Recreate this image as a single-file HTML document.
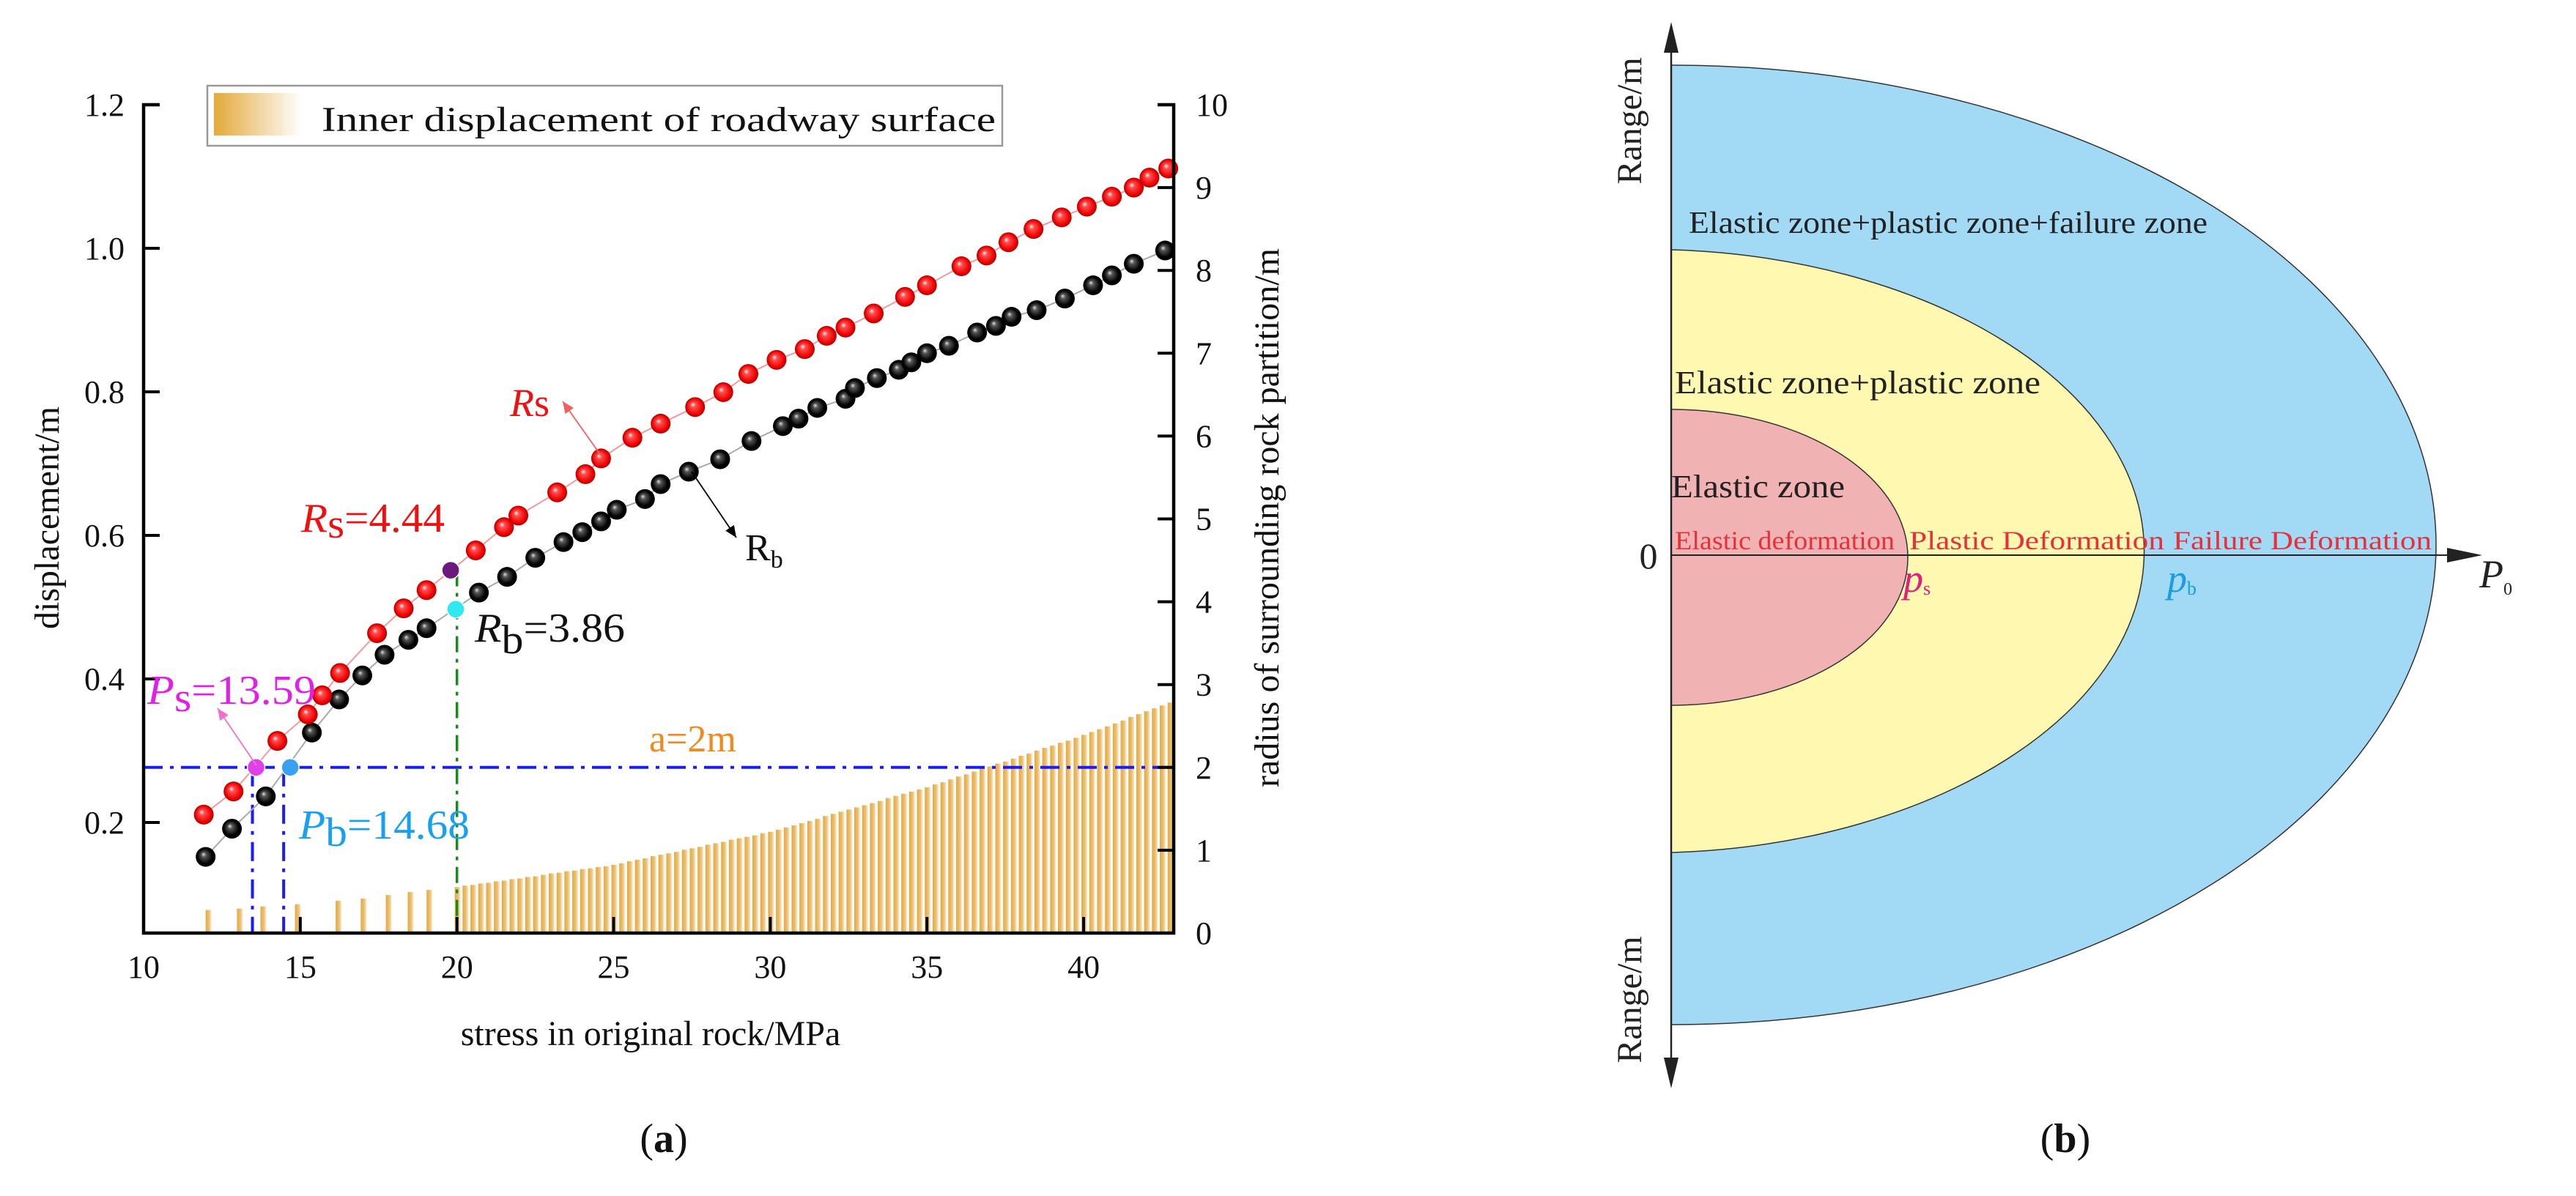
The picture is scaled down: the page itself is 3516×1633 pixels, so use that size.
<!DOCTYPE html>
<html><head><meta charset="utf-8">
<style>
html,body{margin:0;padding:0;background:#fff;}
svg{display:block;font-family:"Liberation Serif",serif;}
</style></head>
<body>
<svg id="fig" width="3516" height="1633" viewBox="0 0 3516 1633" xmlns="http://www.w3.org/2000/svg">
<defs>
  <radialGradient id="gRed" cx="0.5" cy="0.5" r="0.5" fx="0.38" fy="0.36">
    <stop offset="0" stop-color="#ffffff"/><stop offset="0.25" stop-color="#ff5050"/><stop offset="0.8" stop-color="#ee0000"/><stop offset="1" stop-color="#b00000"/>
  </radialGradient>
  <radialGradient id="gBlack" cx="0.5" cy="0.5" r="0.5" fx="0.38" fy="0.36">
    <stop offset="0" stop-color="#e0e0e0"/><stop offset="0.25" stop-color="#555"/><stop offset="0.75" stop-color="#000"/><stop offset="1" stop-color="#000"/>
  </radialGradient>
  <linearGradient id="gBar" x1="0" x2="1" y1="0" y2="0">
    <stop offset="0" stop-color="#e4a93a"/><stop offset="0.6" stop-color="#ecc177"/><stop offset="1" stop-color="#fbeedc"/>
  </linearGradient>
  <linearGradient id="gLeg" x1="0" x2="1" y1="0" y2="0">
    <stop offset="0" stop-color="#e4a93a"/><stop offset="1" stop-color="#ffffff"/>
  </linearGradient>
</defs>
<g id="chartA"></g>
<g id="chartB">
  <path d="M2281,89 A1044,655 0 0 1 2281,1399 Z" fill="#a2d9f5" stroke="#333" stroke-width="1.5"/>
  <path d="M2281,341 A679,412 0 0 1 2281,1164 Z" fill="#fef8b0" stroke="#333" stroke-width="1.5"/>
  <path d="M2281,559 A323,202 0 0 1 2281,963 Z" fill="#f1b2b3" stroke="#333" stroke-width="1.5"/>
  <line x1="2281" y1="50" x2="2281" y2="1466" stroke="#222" stroke-width="2.5"/>
  <polygon points="2281,30 2271,72 2291,72" fill="#222"/>
  <polygon points="2281,1486 2271,1444 2291,1444" fill="#222"/>
  <line x1="2281" y1="758" x2="3350" y2="758" stroke="#222" stroke-width="2"/>
  <polygon points="3388,758 3340,748 3340,768" fill="#222"/>
  <text x="2305" y="318" font-size="42" fill="#222" textLength="708" lengthAdjust="spacingAndGlyphs">Elastic zone+plastic zone+failure zone</text>
  <text x="2286" y="537" font-size="44" fill="#222" textLength="499" lengthAdjust="spacingAndGlyphs">Elastic zone+plastic zone</text>
  <text x="2281" y="679" font-size="44" fill="#222" textLength="237" lengthAdjust="spacingAndGlyphs">Elastic zone</text>
  <text x="2286" y="750" font-size="36" fill="#e8303a" textLength="300" lengthAdjust="spacingAndGlyphs">Elastic deformation</text>
  <text x="2606" y="750" font-size="36" fill="#e8303a" textLength="348" lengthAdjust="spacingAndGlyphs">Plastic Deformation</text>
  <text x="2966" y="750" font-size="36" fill="#e8303a" textLength="353" lengthAdjust="spacingAndGlyphs">Failure Deformation</text>
  <text x="2250" y="776" font-size="50" fill="#222" text-anchor="middle">0</text>
  <text x="2598" y="808" font-size="54" font-style="italic" fill="#e0207a">p<tspan font-size="26" font-style="normal" dy="4">s</tspan></text>
  <text x="2958" y="808" font-size="54" font-style="italic" fill="#1a9ee0">p<tspan font-size="26" font-style="normal" dy="4">b</tspan></text>
  <text x="3384" y="802" font-size="54" font-style="italic" fill="#222">P<tspan font-size="24" font-style="normal" dy="10">0</tspan></text>
  <text transform="translate(2240,165) rotate(-90)" font-size="48" fill="#222" text-anchor="middle">Range/m</text>
  <text transform="translate(2240,1365) rotate(-90)" font-size="48" fill="#222" text-anchor="middle">Range/m</text>
  <text x="2819" y="1573" font-size="56" fill="#111" text-anchor="middle">(<tspan font-weight="bold">b</tspan>)</text>
</g>
</svg>
<script>
// ---- data ----
const rsStress = [11.92,12.87,14.27,15.24,15.7,16.27,17.45,18.3,19.03,20.6,21.5,21.96,23.2,24.1,24.6,25.6,26.5,27.6,28.5,29.3,30.2,31.1,31.8,32.4,33.3,34.3,35.0,36.1,36.9,37.6,38.4,39.3,40.1,40.9,41.6,42.1,42.7];
const rsRadius = [1.43,1.71,2.32,2.64,2.87,3.14,3.62,3.92,4.14,4.62,4.9,5.04,5.32,5.54,5.73,5.98,6.15,6.35,6.53,6.75,6.92,7.05,7.21,7.31,7.48,7.68,7.82,8.05,8.18,8.34,8.5,8.64,8.77,8.89,9.0,9.12,9.23];
const rbStress = [11.98,12.82,13.9,15.37,16.24,16.98,17.69,18.45,19.03,20.7,21.6,22.5,23.4,24.0,24.6,25.1,26.0,26.5,27.4,28.4,29.4,30.4,30.9,31.5,32.4,32.7,33.4,34.1,34.5,35.0,35.7,36.6,37.2,37.7,38.5,39.4,40.3,40.9,41.6,42.6];
const rbRadius = [0.92,1.26,1.65,2.42,2.82,3.11,3.36,3.54,3.68,4.11,4.3,4.53,4.72,4.84,4.97,5.11,5.24,5.42,5.57,5.72,5.94,6.12,6.21,6.34,6.45,6.58,6.7,6.8,6.89,7.0,7.09,7.25,7.33,7.44,7.52,7.66,7.82,7.94,8.08,8.24];
const barStress = [12.05,13.05,13.8,14.9,16.2,17.0,17.8,18.5,19.1,
 20,20.25,20.5,20.75,21,21.25,21.5,21.75,22,22.25,22.5,22.75,23,23.25,23.5,23.75,24,24.25,24.5,24.75,25,
 25.25,25.5,25.75,26,26.25,26.5,26.75,27,27.25,27.5,27.75,28,28.25,28.5,28.75,29,29.25,29.5,29.75,30,
 30.25,30.5,30.75,31,31.25,31.5,31.75,32,32.25,32.5,32.75,33,33.25,33.5,33.75,34,34.25,34.5,34.75,35,
 35.25,35.5,35.75,36,36.25,36.5,36.75,37,37.25,37.5,37.75,38,38.25,38.5,38.75,39,39.25,39.5,39.75,40,
 40.25,40.5,40.75,41,41.25,41.5,41.75,42,42.25,42.5,42.75];
const barDisp = [0.078,0.080,0.083,0.086,0.091,0.094,0.099,0.103,0.106,
 .110,.112,.113,.115,.116,.118,.119,.121,.122,.124,.125,.127,.129,.130,.132,.133,.135,.136,.138,.139,.141,
 .143,.146,.148,.150,.153,.155,.157,.159,.162,.164,.166,.169,.171,.173,.176,.178,.180,.182,.185,.187,
 .190,.193,.196,.199,.202,.205,.209,.212,.215,.218,.221,.224,.227,.230,.234,.237,.240,.243,.246,.249,
 .253,.256,.260,.264,.267,.271,.275,.278,.282,.285,.289,.293,.296,.300,.304,.307,.311,.314,.318,.322,
 .326,.330,.334,.338,.342,.347,.351,.355,.359,.363,.367];
const xTicks = [10,15,20,25,30,35,40];
const yLeftTicks = [0.2,0.4,0.6,0.8,1.0,1.2];
const yLeftLabels = ["0.2","0.4","0.6","0.8","1.0","1.2"];
const yRightTicks = [0,1,2,3,4,5,6,7,8,9,10];
const psPoint = [13.59, 2];
const pbPoint = [14.68, 2];
const rsKey = [19.8, 4.38];
const rbKey = [19.96, 3.91];
const aLine = 2;

// ---- scales ----
const X0=196, X1=1602, YB=1274;
const xS = s => X0 + (s-10)*42.77;
const yR = r => YB - r*113.1;
const yL = d => 143 + (1.2-d)*980;
const NS="http://www.w3.org/2000/svg";
const g = document.getElementById('chartA');
function mk(tag, attrs, parent){const e=document.createElementNS(NS,tag);for(const k in attrs)e.setAttribute(k,attrs[k]);(parent||g).appendChild(e);return e;}
function txt(str, attrs){const e=mk('text',attrs);e.textContent=str;return e;}

// bars
const gb = mk('g',{});


barStress.forEach((s,i)=>{
  const y=yL(barDisp[i]);
  const r=mk('rect',{x:xS(s)-3,y:y,width:8,height:YB-y,fill:'url(#gBar)'},gb);
  
  
});

// reference lines
let l;
l=mk('line',{x1:X0,x2:X1,y1:yR(aLine),y2:yR(aLine),stroke:'#1a1aff','stroke-width':4,'stroke-dasharray':'26,10,5,10'});


l=mk('line',{x1:xS(psPoint[0])-5,x2:xS(psPoint[0])-5,y1:yR(psPoint[1]),y2:YB,stroke:'#1a1aff','stroke-width':4,'stroke-dasharray':'26,10,5,10'});


l=mk('line',{x1:xS(pbPoint[0])-9,x2:xS(pbPoint[0])-9,y1:yR(pbPoint[1]),y2:YB,stroke:'#1a1aff','stroke-width':4,'stroke-dasharray':'26,10,5,10'});


l=mk('line',{x1:xS(20),x2:xS(20),y1:yR(rsKey[1]),y2:YB,stroke:'#1a8a1a','stroke-width':3.5,'stroke-dasharray':'22,9,5,9'});



// series lines
function poly(xs,ys,color,name){
  const p=mk('polyline',{points:xs.map((s,i)=>xS(s)+','+yR(ys[i])).join(' '),fill:'none',stroke:color,'stroke-width':2});
  
  
}
poly(rsStress,rsRadius,'#f29a9a','rs-line');
poly(rbStress,rbRadius,'#aaaaaa','rb-line');

// points
function pts(xs,ys,fill,name){
  const gg=mk('g',{});
  
  
  xs.forEach((s,i)=>{
    const c=mk('circle',{cx:xS(s),cy:yR(ys[i]),r:13.5,fill:fill},gg);
    
    
  });
}
pts(rbStress,rbRadius,'url(#gBlack)','rb-points');
pts(rsStress,rsRadius,'url(#gRed)','rs-points');
function key(p,color,name){
  const c=mk('circle',{cx:xS(p[0]),cy:yR(p[1]),r:12,fill:color,stroke:'#fff','stroke-width':1.5});
  
  
}
key(rsKey,'#6b1a7f','rs-key-point');
key(rbKey,'#30e8f0','rb-key-point');
key(psPoint,'#e040e8','ps-point');
key(pbPoint,'#3aa0f0','pb-point');

// axes
l=mk('path',{d:`M${X0+22},143 H${X0} V${YB} H${X1} V143 H${X1-22}`,fill:'none',stroke:'#000','stroke-width':4.5});


yLeftTicks.forEach((v,i)=>{
  const t=mk('line',{x1:X0,x2:X0+22,y1:yL(v),y2:yL(v),stroke:'#000','stroke-width':4});
  
  
  const lb=txt(yLeftLabels[i],{x:170,y:yL(v)+15,'font-size':44,'text-anchor':'end',fill:'#111'});
  
  
});
yRightTicks.forEach(v=>{
  const t=mk('line',{x1:X1-22,x2:X1,y1:yR(v),y2:yR(v),stroke:'#000','stroke-width':4});
  
  
  const lb=txt(String(v),{x:1632,y:yR(v)+15,'font-size':44,fill:'#111'});
  
  
});
xTicks.forEach(v=>{
  const t=mk('line',{x1:xS(v),x2:xS(v),y1:YB,y2:YB-22,stroke:'#000','stroke-width':4});
  
  
  const lb=txt(String(v),{x:xS(v),y:1335,'font-size':44,'text-anchor':'middle',fill:'#111'});
  
  
});

// titles
let t;
t=txt('stress in original rock/MPa',{x:888,y:1427,'font-size':48,'text-anchor':'middle',fill:'#111'});


t=txt('displacement/m',{transform:'translate(80,707) rotate(-90)','font-size':48,'text-anchor':'middle',fill:'#111'});


t=txt('radius of surrounding rock partition/m',{transform:'translate(1745,707) rotate(-90)','font-size':48,'text-anchor':'middle',fill:'#111'});


t=txt('',{x:906,y:1573,'font-size':56,'text-anchor':'middle',fill:'#111'});
t.innerHTML='(<tspan font-weight="bold">a</tspan>)';



// legend
const lg=mk('g',{});


mk('rect',{x:283,y:117,width:1085,height:82,fill:'#fff',stroke:'#999','stroke-width':2.5},lg);
mk('rect',{x:292,y:127,width:120,height:58,fill:'url(#gLeg)'},lg);
const lt=mk('text',{x:439,y:179,'font-size':48,fill:'#111',textLength:920,lengthAdjust:'spacingAndGlyphs'},lg);
lt.textContent='Inner displacement of roadway surface';



// annotations
function arrow(x1,y1,x2,y2,color,name){
  const a=mk('g',{});
  
  
  mk('line',{x1:x1,y1:y1,x2:x2,y2:y2,stroke:color,'stroke-width':1.8},a);
  const ang=Math.atan2(y2-y1,x2-x1), L=16, W=7;
  const bx=x2-L*Math.cos(ang), by=y2-L*Math.sin(ang);
  mk('polygon',{points:`${x2},${y2} ${bx-W*Math.sin(ang)},${by+W*Math.cos(ang)} ${bx+W*Math.sin(ang)},${by-W*Math.cos(ang)}`,fill:color},a);
}
arrow(821,623,768,548,'#f06060','rs-arrow');
arrow(944,644,1005,734,'#000','rb-arrow');
arrow(350,1045,297,967,'#f070d0','ps-arrow');

function ann(html,attrs,name){const e=txt('',attrs);e.innerHTML=html;}
ann('<tspan font-style="italic">R</tspan>s',{x:696,y:568,'font-size':54,fill:'#ee1111'},'rs-label');
ann('R<tspan font-size="34" dy="10">b</tspan>',{x:1017,y:765,'font-size':52,fill:'#111'},'rb-label');
ann('<tspan font-style="italic">R</tspan><tspan dy="8">s</tspan><tspan dy="-8">=4.44</tspan>',{x:411,y:726,'font-size':56,fill:'#ee1111',textLength:196,lengthAdjust:'spacingAndGlyphs'},'rs-value-label');
ann('<tspan font-style="italic">R</tspan><tspan dy="16">b</tspan><tspan dy="-16">=3.86</tspan>',{x:648,y:876,'font-size':56,fill:'#111',textLength:205,lengthAdjust:'spacingAndGlyphs'},'rb-value-label');
ann('<tspan font-style="italic">P</tspan><tspan dy="10">s</tspan><tspan dy="-10">=13.59</tspan>',{x:201,y:961,'font-size':56,fill:'#e020e8',textLength:230,lengthAdjust:'spacingAndGlyphs'},'ps-value-label');
ann('<tspan font-style="italic">P</tspan><tspan dy="10">b</tspan><tspan dy="-10">=14.68</tspan>',{x:408,y:1145,'font-size':56,fill:'#1aa0f0',textLength:233,lengthAdjust:'spacingAndGlyphs'},'pb-value-label');
ann('a=2m',{x:886,y:1026,'font-size':52,fill:'#f08a1e'},'a-value-label');
</script>
</body></html>
